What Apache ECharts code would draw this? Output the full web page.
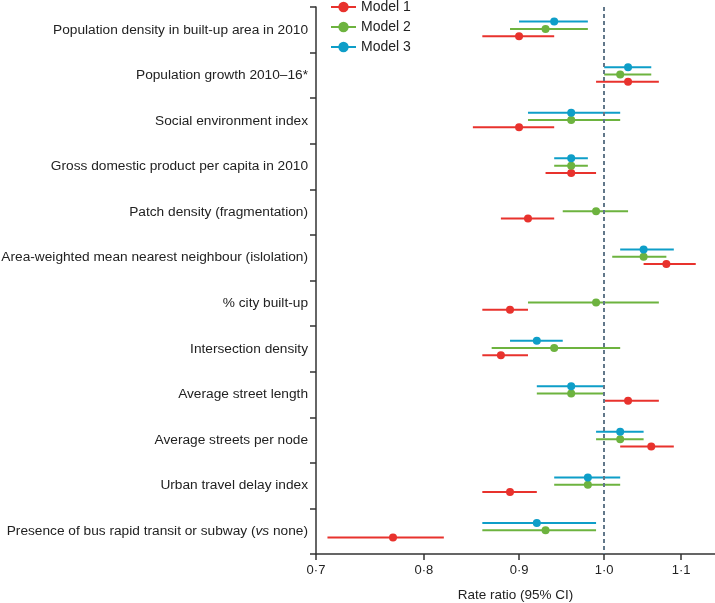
<!DOCTYPE html>
<html>
<head>
<meta charset="utf-8">
<script src="https://cdn.jsdelivr.net/npm/echarts@6/dist/echarts.min.js"></script>
<style>html,body{margin:0;padding:0;background:#fff;}#c{width:715px;height:603px;}</style>
</head>
<body>
<div id="c"></div>
<script>
const categories = [
  'Population density in built-up area in 2010',
  'Population growth 2010–16*',
  'Social environment index',
  'Gross domestic product per capita in 2010',
  'Patch density (fragmentation)',
  'Area-weighted mean nearest neighbour (islolation)',
  '% city built-up',
  'Intersection density',
  'Average street length',
  'Average streets per node',
  'Urban travel delay index',
  'Presence of bus rapid transit or subway (vs none)'
];
const modelNames = ['Model 1', 'Model 2', 'Model 3'];
const m1Est = [0.90, 1.03, 0.90, 0.96, 0.91, 1.08, 0.89, 0.88, 1.03, 1.06, 0.89, 0.77];
const m1Lo  = [0.86, 0.99, 0.85, 0.93, 0.88, 1.05, 0.86, 0.86, 1.00, 1.02, 0.86, 0.71];
const m1Hi  = [0.94, 1.07, 0.94, 0.99, 0.94, 1.12, 0.91, 0.91, 1.07, 1.09, 0.92, 0.82];
const m2Est = [0.93, 1.02, 0.96, 0.96, 0.99, 1.05, 0.99, 0.94, 0.96, 1.02, 0.98, 0.93];
const m2Lo  = [0.89, 1.00, 0.91, 0.94, 0.95, 1.01, 0.91, 0.87, 0.92, 0.99, 0.94, 0.86];
const m2Hi  = [0.98, 1.06, 1.02, 0.98, 1.03, 1.08, 1.07, 1.02, 1.00, 1.05, 1.02, 0.99];
const m3Est = [0.94, 1.03, 0.96, 0.96, null, 1.05, null, 0.92, 0.96, 1.02, 0.98, 0.92];
const m3Lo  = [0.90, 1.00, 0.91, 0.94, null, 1.02, null, 0.89, 0.92, 0.99, 0.94, 0.86];
const m3Hi  = [0.98, 1.06, 1.02, 0.98, null, 1.09, null, 0.95, 1.00, 1.05, 1.02, 0.99];
const xTicks = [0.7, 0.8, 0.9, 1.0, 1.1];
const refValue = 1.0;

const colors = ['#e8322d', '#6db33f', '#0e9ec8'];
const offsets = [0.14, -0.02, -0.18]; // vertical offset within category band
const models = [[m1Est, m1Lo, m1Hi], [m2Est, m2Lo, m2Hi], [m3Est, m3Lo, m3Hi]];
const L = v => Math.log10(v);
const FONT = 'Liberation Sans';
const TXT = '#222';

const series = [];
models.forEach((m, k) => {
  const pts = [];
  m[0].forEach((est, i) => {
    if (est == null) return;
    pts.push([L(est), i + 0.5 + offsets[k]]);
  });
  series.push({
    name: modelNames[k], type: 'line', xAxisIndex: 0, yAxisIndex: 1,
    data: pts, symbol: 'circle', symbolSize: 8, showSymbol: true,
    itemStyle: { color: colors[k] }, lineStyle: { opacity: 0, color: colors[k], width: 2 },
    z: 5, silent: true, animation: false
  });
});
models.forEach((m, k) => {
  const bars = [];
  m[0].forEach((est, i) => {
    if (est == null) return;
    bars.push([L(m[1][i]), L(m[2][i]), L(est), i + 0.5 + offsets[k]]);
  });
  series.push({
    name: modelNames[k], type: 'custom', xAxisIndex: 0, yAxisIndex: 1,
    data: bars, encode: { x: [0, 1], y: 3 }, z: 3, silent: true, animation: false,
    renderItem: (params, api) => {
      const y = api.value(3);
      const p1 = api.coord([api.value(0), y]);
      const p2 = api.coord([api.value(1), y]);
      return { type: 'line', shape: { x1: p1[0], y1: p1[1], x2: p2[0], y2: p2[1] },
        style: { stroke: colors[k], lineWidth: 2 } };
    },
    markLine: k === 0 ? {
      silent: true, symbol: ['none', 'none'], label: { show: false },
      lineStyle: { color: '#62788a', width: 2, type: [4, 3] },
      data: [{ xAxis: L(refValue) }], animation: false
    } : undefined
  });
});

const chart = echarts.init(document.getElementById('c'));
chart.setOption({
  animation: false,
  textStyle: { fontFamily: FONT },
  grid: { left: 316, right: 0, top: 7, bottom: 49, containLabel: false, outerBoundsMode: 'none' },
  legend: {
    data: modelNames, orient: 'vertical', left: 330, top: 0, padding: 0,
    itemWidth: 25, itemHeight: 13, itemGap: 6,
    textStyle: { fontFamily: FONT, fontSize: 14, color: TXT },
    lineStyle: { width: 2, opacity: 1 }, selectedMode: false
  },
  xAxis: {
    type: 'value', min: L(0.7), max: L(1.147),
    splitLine: { show: false },
    axisLine: { show: true, onZero: false, lineStyle: { color: '#333', width: 1.5 } },
    axisTick: { show: true, customValues: xTicks.map(L), length: 6, lineStyle: { color: '#333', width: 1.5 } },
    axisLabel: {
      customValues: xTicks.map(L), margin: 10, color: TXT, fontSize: 13, fontFamily: FONT,
      formatter: v => (Math.round(Math.pow(10, v) * 10) / 10).toFixed(1).replace('.', '·')
    },
    name: 'Rate ratio (95% CI)', nameLocation: 'middle', nameGap: 34,
    nameTextStyle: { color: TXT, fontSize: 13.5, fontFamily: FONT }
  },
  yAxis: [{
    type: 'category', data: categories, inverse: true, boundaryGap: true,
    axisLine: { show: true, onZero: false, lineStyle: { color: '#333', width: 1.5 } },
    axisTick: { show: true, length: 6, lineStyle: { color: '#333', width: 1.5 } },
    axisLabel: {
      margin: 8, color: TXT, fontSize: 13.7, fontFamily: FONT,
      formatter: s => s.indexOf('(vs none)') >= 0
        ? '{n|' + s.replace('(vs none)', '(') + '}{i|vs}{n| none)}' : s,
      rich: {
        n: { color: TXT, fontSize: 13.7, fontFamily: FONT },
        i: { color: TXT, fontSize: 13.7, fontFamily: FONT, fontStyle: 'italic' }
      }
    },
    splitLine: { show: false }
  }, {
    type: 'value', min: 0, max: 12, inverse: true, show: false,
    axisLine: { onZero: false },
    splitLine: { show: false }
  }],
  series: series
});
</script>
</body>
</html>
